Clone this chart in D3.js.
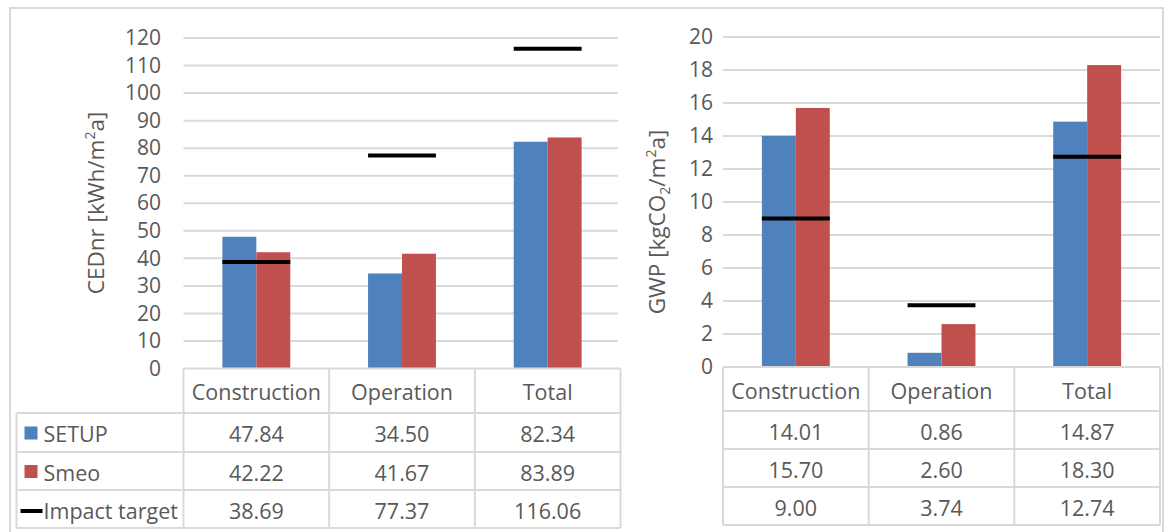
<!DOCTYPE html>
<html>
<head>
<meta charset="utf-8">
<script src="https://cdn.jsdelivr.net/npm/d3@7"></script>
<style>
  html, body { margin: 0; padding: 0; background: #fff; }
  svg { display: block; font-family: "Open Sans", "Noto Sans", sans-serif; }
</style>
</head>
<body>
<svg id="chart" width="1164" height="532"></svg>
<script>
// Life-cycle impact per m² and year, two indicators side by side
const categories = ["Construction", "Operation", "Total"];
const seriesNames = ["SETUP", "Smeo", "Impact target"];

const cedSetup  = [47.84, 34.50, 82.34];
const cedSmeo   = [42.22, 41.67, 83.89];
const cedTarget = [38.69, 77.37, 116.06];
const cedTicks  = [0, 10, 20, 30, 40, 50, 60, 70, 80, 90, 100, 110, 120];

const gwpSetup  = [14.01, 0.86, 14.87];
const gwpSmeo   = [15.70, 2.60, 18.30];
const gwpTarget = [9.00, 3.74, 12.74];
const gwpTicks  = [0, 2, 4, 6, 8, 10, 12, 14, 16, 18, 20];

const colors = { SETUP: "#4f81bd", Smeo: "#c0504d", target: "#000000" };
const textColor = "#595959";
const gridColor = "#d9d9d9";
const fmt = d3.format(".2f");
const tableFont = 21.5;
const tickFont = 21;
const titleFont = 22.5;

const svg = d3.select("#chart");

// outer frame
svg.append("rect")
  .attr("x", 10).attr("y", 8)
  .attr("width", 1153).attr("height", 600)
  .attr("fill", "none").attr("stroke", gridColor).attr("stroke-width", 2);

function drawPanel(cfg) {
  const g = svg.append("g");
  const x = d3.scaleBand().domain(categories).range([cfg.x0, cfg.x1]);
  const y = d3.scaleLinear().domain([0, cfg.ticks[cfg.ticks.length - 1]]).range([cfg.yBase, cfg.yTop]);
  const half = x.bandwidth() * 0.233;
  const inner = d3.scaleBand().domain(["SETUP", "Smeo"]).range([-half, half]);

  // gridlines
  g.append("g").selectAll("line").data(cfg.ticks.slice(1)).join("line")
    .attr("x1", cfg.x0).attr("x2", cfg.gridEnd)
    .attr("y1", d => y(d)).attr("y2", d => y(d))
    .attr("stroke", gridColor).attr("stroke-width", 2);

  // value axis
  const axis = d3.axisLeft(y).tickValues(cfg.ticks).tickSize(0).tickPadding(0);
  const ax = g.append("g").attr("transform", `translate(${cfg.tickX},0)`).call(axis);
  ax.select(".domain").remove();
  ax.selectAll("text")
    .attr("fill", textColor).attr("font-size", tickFont)
    .attr("font-family", "\"Open Sans\", sans-serif");

  // axis title
  const title = g.append("text")
    .attr("transform", `translate(${cfg.titleX},${cfg.titleY}) rotate(-90)`)
    .attr("text-anchor", "middle").attr("fill", textColor).attr("font-size", titleFont);
  cfg.title(title);

  // bars
  const rows = categories.map((c, i) => ({ c, SETUP: cfg.setup[i], Smeo: cfg.smeo[i], target: cfg.target[i] }));
  const groups = g.append("g").selectAll("g").data(rows).join("g")
    .attr("transform", d => `translate(${x(d.c) + x.bandwidth() / 2},0)`);
  ["SETUP", "Smeo"].forEach(s => {
    groups.append("rect")
      .attr("x", inner(s)).attr("width", inner.bandwidth())
      .attr("y", d => y(d[s])).attr("height", d => y(0) - y(d[s]))
      .attr("fill", colors[s]);
  });
  groups.append("line")
    .attr("x1", -half).attr("x2", half)
    .attr("y1", d => y(d.target)).attr("y2", d => y(d.target))
    .attr("stroke", colors.target).attr("stroke-width", 4);

  // data table
  const rowY = cfg.rowY; // header bottom, then each row's bottom line
  const t = g.append("g");
  const left = cfg.legend ? cfg.legendX : cfg.x0;
  t.append("line").attr("x1", cfg.x0).attr("x2", cfg.x1)
    .attr("y1", cfg.yBase).attr("y2", cfg.yBase)
    .attr("stroke", gridColor).attr("stroke-width", 2);
  t.selectAll("line.h").data(rowY).join("line").attr("class", "h")
    .attr("x1", left).attr("x2", cfg.x1)
    .attr("y1", d => d).attr("y2", d => d)
    .attr("stroke", gridColor).attr("stroke-width", 2);
  const cuts = categories.map(c => x(c)).concat([cfg.x1]);
  t.selectAll("line.v").data(cuts).join("line").attr("class", "v")
    .attr("x1", d => d).attr("x2", d => d)
    .attr("y1", cfg.yBase).attr("y2", rowY[rowY.length - 1])
    .attr("stroke", gridColor).attr("stroke-width", 2);
  if (cfg.legend) {
    t.append("line").attr("x1", left).attr("x2", left)
      .attr("y1", rowY[0]).attr("y2", rowY[rowY.length - 1])
      .attr("stroke", gridColor).attr("stroke-width", 2);
  }
  const textAttrs = sel => sel.attr("fill", textColor).attr("font-size", tableFont)
    .attr("dominant-baseline", "central");
  // header row
  t.selectAll("text.hd").data(categories).join("text").attr("class", "hd")
    .attr("x", d => x(d) + x.bandwidth() / 2).attr("y", (cfg.yBase + rowY[0]) / 2 + 1)
    .attr("text-anchor", "middle").call(textAttrs).text(d => d);
  // value rows with legend keys
  const series = [cfg.setup, cfg.smeo, cfg.target];
  series.forEach((vals, r) => {
    const cy = (rowY[r] + rowY[r + 1]) / 2 + 1;
    t.append("g").selectAll("text").data(vals).join("text")
      .attr("x", (d, i) => x(categories[i]) + x.bandwidth() / 2).attr("y", cy)
      .attr("text-anchor", "middle").call(textAttrs).text(d => fmt(d));
    if (cfg.legend) {
      const kx = left + 8;
      if (r < 2) {
        t.append("rect").attr("x", kx).attr("y", cy - 7).attr("width", 13).attr("height", 13)
          .attr("fill", colors[seriesNames[r]]);
      } else {
        t.append("line").attr("x1", kx - 4).attr("x2", kx + 18)
          .attr("y1", cy + 1).attr("y2", cy + 1)
          .attr("stroke", colors.target).attr("stroke-width", 4);
      }
      t.append("text").attr("x", kx + 19).attr("y", cy).call(textAttrs).text(seriesNames[r]);
    }
  });
}

drawPanel({
  x0: 183.5, x1: 620.5, gridEnd: 618, yTop: 38, yBase: 368.5,
  ticks: cedTicks, tickX: 161, titleX: 104, titleY: 203,
  setup: cedSetup, smeo: cedSmeo, target: cedTarget,
  rowY: [413, 452, 490, 528], legend: true, legendX: 16.5,
  title: sel => {
    sel.append("tspan").text("CEDnr [kWh/m");
    sel.append("tspan").attr("dy", -9).attr("font-size", 14).text("2");
    sel.append("tspan").attr("dy", 9).text("a]");
  }
});

drawPanel({
  x0: 723, x1: 1160, gridEnd: 1160, yTop: 37, yBase: 367,
  ticks: gwpTicks, tickX: 713, titleX: 665, titleY: 222,
  setup: gwpSetup, smeo: gwpSmeo, target: gwpTarget,
  rowY: [411, 449, 487, 525], legend: false,
  title: sel => {
    sel.append("tspan").text("GWP [kgCO");
    sel.append("tspan").attr("dy", 5).attr("font-size", 14).text("2");
    sel.append("tspan").attr("dy", -5).text("/m");
    sel.append("tspan").attr("dy", -9).attr("font-size", 14).text("2");
    sel.append("tspan").attr("dy", 9).text("a]");
  }
});
</script>
</body>
</html>
